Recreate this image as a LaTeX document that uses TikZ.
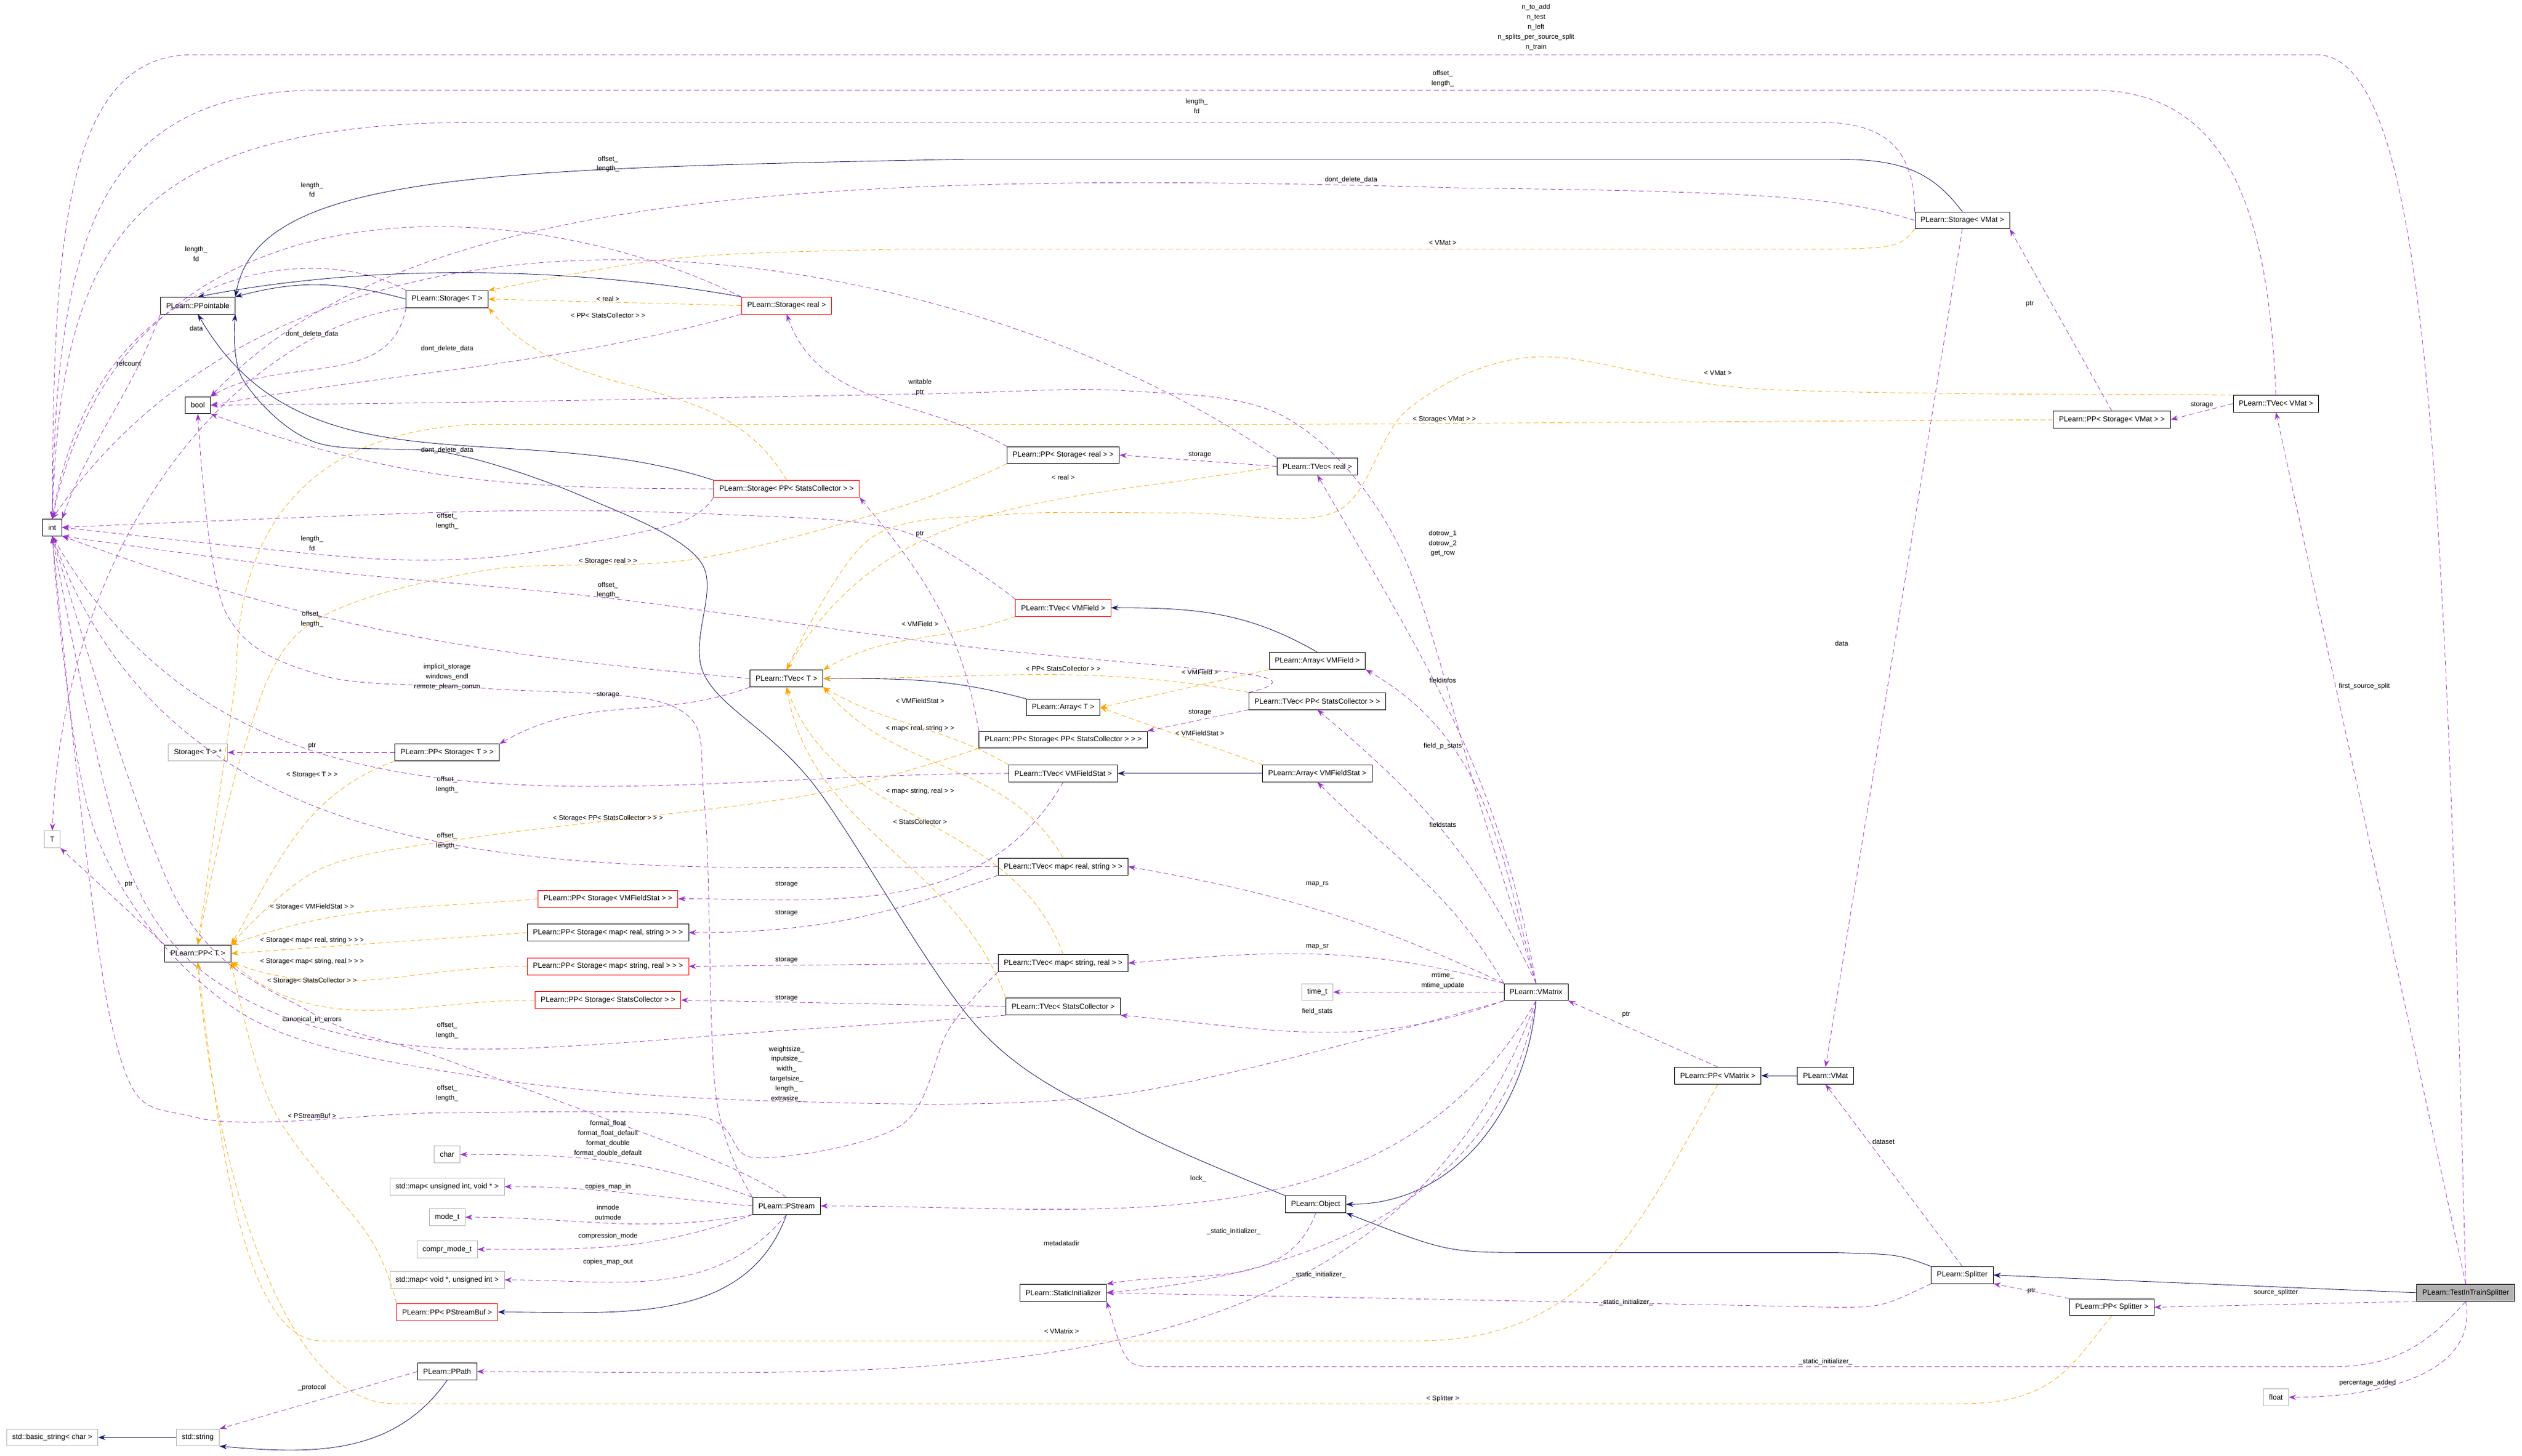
\documentclass[tikz,border=0pt]{standalone}
\usepackage{fontspec}
\setmainfont{Liberation Sans}
\usetikzlibrary{arrows.meta}
\begin{document}
\begin{tikzpicture}[x=0.2mm,y=-0.2mm,
  box/.style={draw=black,fill=white,line width=0.18pt,font=\fontsize{2.6}{3}\selectfont,inner xsep=0.7mm,inner ysep=0.3mm,minimum height=2.1mm},
  rbox/.style={box,draw=red},
  gbox/.style={box,draw=black!30},
  cbox/.style={box,fill=black!30},
  lab/.style={font=\fontsize{2.4}{3.5}\selectfont,align=center,inner sep=0pt},
  tip/.style={-{Stealth[length=0.9mm,width=0.64mm]}},
  dep/.style={tip,draw={rgb,255:red,154;green,50;blue,205},dash pattern=on 0.6mm off 0.4mm,line width=0.16pt},
  tmp/.style={tip,draw={rgb,255:red,255;green,165;blue,0},dash pattern=on 0.6mm off 0.4mm,line width=0.16pt},
  inh/.style={tip,draw={rgb,255:red,25;green,25;blue,112},line width=0.18pt},
  smooth/.append style={tension=0.55}]
\useasboundingbox[fill=white] (0,0) rectangle (1568,905.2);
% nodes
\node[box] (int) at (32.5,328) {int};
\node[box] (ppt) at (123,190) {PLearn::PPointable};
\node[box] (stT) at (278,186) {PLearn::Storage< T >};
\node[rbox] (streal) at (489,190) {PLearn::Storage< real >};
\node[box] (bool) at (123,252) {bool};
\node[rbox] (stsc) at (489,304) {PLearn::Storage< PP< StatsCollector > >};
\node[box] (ppstreal) at (661,283) {PLearn::PP< Storage< real > >};
\node[box] (tvreal) at (819,290) {PLearn::TVec< real >};
\node[box] (stvmat) at (1220,137) {PLearn::Storage< VMat >};
\node[box] (ppstvmat) at (1313,261) {PLearn::PP< Storage< VMat > >};
\node[box] (tvvmat) at (1415,251) {PLearn::TVec< VMat >};
\node[rbox] (tvvmf) at (661,378) {PLearn::TVec< VMField >};
\node[box] (arrvmf) at (819,411) {PLearn::Array< VMField >};
\node[box] (tvT) at (489,422) {PLearn::TVec< T >};
\node[box] (tvppsc) at (819,436) {PLearn::TVec< PP< StatsCollector > >};
\node[box] (arrT) at (661,440) {PLearn::Array< T >};
\node[box] (ppstppsc) at (661,460) {PLearn::PP< Storage< PP< StatsCollector > > >};
\node[box] (tvvmfs) at (661,481) {PLearn::TVec< VMFieldStat >};
\node[box] (arrvmfs) at (819,481) {PLearn::Array< VMFieldStat >};
\node[gbox] (stTptr) at (123,468) {Storage< T > *};
\node[box] (ppstT) at (278,468) {PLearn::PP< Storage< T > >};
\node[gbox] (T) at (32.5,522) {T};
\node[box] (ppT) at (123,593) {PLearn::PP< T >};
\node[box] (tvmrs) at (661,539) {PLearn::TVec< map< real, string > >};
\node[rbox] (ppstvmfs) at (378,559) {PLearn::PP< Storage< VMFieldStat > >};
\node[box] (ppstmrs) at (378,580) {PLearn::PP< Storage< map< real, string > > >};
\node[rbox] (ppstmsr) at (378,601) {PLearn::PP< Storage< map< string, real > > >};
\node[box] (tvmsr) at (661,599) {PLearn::TVec< map< string, real > >};
\node[rbox] (ppstsc) at (378,622) {PLearn::PP< Storage< StatsCollector > >};
\node[box] (tvsc) at (661,626) {PLearn::TVec< StatsCollector >};
\node[gbox] (timet) at (819,617) {time\_t};
\node[box] (vmatrix) at (955,617) {PLearn::VMatrix};
\node[box] (ppvmatrix) at (1068,669) {PLearn::PP< VMatrix >};
\node[box] (vmat) at (1135,669) {PLearn::VMat};
\node[gbox] (char) at (278,718) {char};
\node[gbox] (mapuv) at (278,738) {std::map< unsigned int, void * >};
\node[box] (pstream) at (489,750) {PLearn::PStream};
\node[gbox] (modet) at (278,757) {mode\_t};
\node[gbox] (comprt) at (278,777) {compr\_mode\_t};
\node[gbox] (mapvu) at (278,796) {std::map< void *, unsigned int >};
\node[box] (pobject) at (818,749) {PLearn::Object};
\node[rbox] (ppsbuf) at (278,816) {PLearn::PP< PStreamBuf >};
\node[box] (statinit) at (661,804) {PLearn::StaticInitializer};
\node[box] (splitter) at (1220,793) {PLearn::Splitter};
\node[cbox] (tits) at (1533,804) {PLearn::TestInTrainSplitter};
\node[box] (ppsplitter) at (1313,813) {PLearn::PP< Splitter >};
\node[box] (ppath) at (278,853) {PLearn::PPath};
\node[gbox] (bstring) at (32.5,894) {std::basic\_string< char >};
\node[gbox] (string) at (123,894) {std::string};
\node[gbox] (float) at (1415,869) {float};
% inheritance
\draw[inh] (stT.west) to[out=165,in=15] (ppt.north east);
\draw[inh] (streal.north west) .. controls (380,170) and (250,160) .. (ppt.north);
\draw[inh] (stsc.north west) to[out=162,in=-60] (ppt.south);
\draw[inh] (stvmat.north) .. controls (1200,105) and (1180,99) .. (1140,99) -- (600,99) .. controls (300,105) and (160,108) .. (ppt.north east);
\draw[inh] plot[smooth] coordinates {(pobject.north west) (700,700) (608,639) (506,488) (438,420) (436,350) (363,309) (280,282) (196,275) (151,236) (ppt.south east)};
\draw[inh] (arrT.north west) to[out=165,in=0] (tvT.east);
\draw[inh] (arrvmf.north) to[out=150,in=0] (tvvmf.east);
\draw[inh] (arrvmfs.west) -- (tvvmfs.east);
\draw[inh] (vmatrix.south) to[out=-95,in=0] (pobject.east);
\draw[inh] (splitter.north west) .. controls (1180,780) .. (1138,779) -- (954,779) .. controls (900,779) .. (pobject.south east);
\draw[inh] (tits.west) -- (splitter.east);
\draw[inh] (vmat.west) -- (ppvmatrix.east);
\draw[inh] (pstream.south) to[out=-110,in=0] (ppsbuf.east);
\draw[inh] (ppath.south) to[out=-125,in=-5] (string.south east);
\draw[inh] (string.west) -- (bstring.east);
% template instances
\draw[tmp] (streal.west) -- (stT.east);
\draw[tmp] (stsc.north) to[out=120,in=-50] (stT.south east);
\draw[tmp] (stvmat.south west) .. controls (1180,155) .. (1100,155) -- (560,155) .. controls (420,158) .. (stT.north east);
\draw[tmp] (tvreal.west) to[out=190,in=60] (tvT.north);
\draw[tmp] (tvvmf.south west) to[out=200,in=30] (tvT.north east);
\draw[tmp] (tvppsc.north west) to[out=170,in=0] (tvT.east);
\draw[tmp] (tvvmfs.north west) to[out=150,in=-30] (tvT.south east);
\draw[tmp] (tvmrs.north) to[out=120,in=-50] (tvT.south east);
\draw[tmp] (tvmsr.north) to[out=110,in=-70] (tvT.south);
\draw[tmp] (tvsc.north west) to[out=110,in=-80] (tvT.south);
\draw[tmp] plot[smooth] coordinates {(tvvmat.north west) (1096,242) (955,222) (876,254) (831,318) (737,319) (625,320) (541,335) (tvT.north)};
\draw[tmp] (arrvmf.south west) -- (arrT.east);
\draw[tmp] (arrvmfs.north west) to[out=160,in=-20] (arrT.east);
\draw[tmp] plot[smooth] coordinates {(ppstreal.south west) (560,315) (430,348) (300,355) (190,390) (150,470) (ppT.north)};
\draw[tmp] (ppstT.south west) to[out=200,in=60] (ppT.north east);
\draw[tmp] plot[smooth] coordinates {(ppstppsc.south west) (500,495) (300,520) (200,540) (ppT.north east)};
\draw[tmp] (ppstvmfs.west) to[out=185,in=20] (ppT.north east);
\draw[tmp] (ppstmrs.west) -- (ppT.east);
\draw[tmp] (ppstmsr.west) to[out=180,in=-20] (ppT.south east);
\draw[tmp] (ppstsc.west) to[out=180,in=-40] (ppT.south east);
\draw[tmp] (ppstvmat.west) -- (800,264) -- (293,264) .. controls (190,270) and (147,330) .. (147,420) -- (ppT.north);
\draw[tmp] plot[smooth] coordinates {(ppsbuf.north west) (230,770) (170,690) (ppT.south east)};
\draw[tmp] (ppvmatrix.south) .. controls (1020,760) and (990,834) .. (880,834) -- (200,834) .. controls (150,834) and (135,700) .. (ppT.south);
\draw[tmp] (ppsplitter.south) .. controls (1290,845) and (1280,873) .. (1220,873) -- (245,873) .. controls (170,873) and (130,700) .. (ppT.south);
% usage
\draw[dep] (ppt.south west) to[out=-110,in=70] (int.north east);
\draw[dep] (stT.south west) .. controls (150,205) and (40,330) .. (T.north);
\draw[dep] (stT.north west) .. controls (200,150) and (60,160) .. (int.north);
\draw[dep] (stT.south west) to[out=-100,in=30] (bool.north east);
\draw[dep] (streal.north west) .. controls (330,120) and (80,100) .. (int.north);
\draw[dep] (streal.south west) to[out=195,in=10] (bool.east);
\draw[dep] plot[smooth] coordinates {(stsc.south west) (419,326) (320,345) (244,348) (150,340) (int.east)};
\draw[dep] (stsc.west) to[out=180,in=-20] (bool.south east);
\draw[dep] (stvmat.north west) .. controls (1190,90) and (1170,76) .. (1130,76) -- (300,76) .. controls (80,76) and (38,150) .. (int.north);
\draw[dep] (stvmat.west) .. controls (1150,125) and (1120,119) .. (912,117) .. controls (500,105) and (250,120) .. (bool.north east);
\draw[dep] (stvmat.south) -- (vmat.north);
\draw[dep] (ppstreal.north west) to[out=150,in=-70] (streal.south);
\draw[dep] (ppstvmat.north) -- (stvmat.south east);
\draw[dep] (ppstppsc.north west) to[out=100,in=-50] (stsc.south east);
\draw[dep] (ppstT.west) -- (stTptr.east);
\draw[dep] (ppT.north west) -- (T.south east);
\draw[dep] (tvreal.west) -- (ppstreal.east);
\draw[dep] (tvvmat.west) -- (ppstvmat.east);
\draw[dep] (tvT.south west) to[out=200,in=30] (ppstT.north east);
\draw[dep] (tvppsc.south west) -- (ppstppsc.north east);
\draw[dep] (tvvmfs.south) to[out=-120,in=0] (ppstvmfs.east);
\draw[dep] (tvmrs.south west) to[out=200,in=0] (ppstmrs.east);
\draw[dep] (tvmsr.west) -- (ppstmsr.east);
\draw[dep] (tvsc.west) -- (ppstsc.east);
\draw[dep] (tvreal.north west) .. controls (600,150) and (200,80) .. (int.north);
\draw[dep] (tvvmat.north) .. controls (1410,120) and (1380,56) .. (1300,56) -- (200,56) .. controls (60,56) and (35,150) .. (int.north);
\draw[dep] (tits.north) .. controls (1520,300) and (1510,34) .. (1440,34) -- (120,34) .. controls (40,34) and (33,150) .. (int.north);
\draw[dep] plot[smooth] coordinates {(tvvmf.north west) (560,330) (450,320) (300,318) (int.east)};
\draw[dep] (tvT.west) to[out=175,in=-20] (int.south east);
\draw[dep] plot[smooth] coordinates {(tvppsc.north west) (780,420) (600,402) (378,372) (200,355) (int.south east)};
\draw[dep] (tvvmfs.west) to[out=180,in=-60] (int.south);
\draw[dep] (tvmrs.west) to[out=180,in=-70] (int.south);
\draw[dep] plot[smooth] coordinates {(tvsc.south west) (500,640) (278,652) (150,620) (80,540) (int.south)};
\draw[dep] plot[smooth] coordinates {(vmatrix.south west) (700,680) (489,685) (300,670) (150,630) (60,520) (int.south)};
\draw[dep] plot[smooth] coordinates {(tvmsr.south west) (590,640) (560,700) (470,720) (433,694) (278,692) (122,695) (70,640) (int.south)};
\draw[dep] plot[smooth] coordinates {(pstream.north) (440,720) (280,660) (194,630) (110,560) (int.south)};
\draw[dep] plot[smooth] coordinates {(pstream.north west) (445,680) (438,500) (420,440) (300,428) (200,420) (140,380) (bool.south)};
\draw[dep] plot[smooth] coordinates {(vmatrix.north) (920,500) (870,340) (800,260) (700,243) (572,245) (300,250) (bool.east)};
\draw[dep] (vmatrix.north) to[out=100,in=-60] (tvreal.south);
\draw[dep] (vmatrix.north) to[out=105,in=-30] (arrvmf.south east);
\draw[dep] (vmatrix.north) to[out=115,in=-40] (tvppsc.south);
\draw[dep] (vmatrix.north west) to[out=120,in=-45] (arrvmfs.south);
\draw[dep] (vmatrix.north west) to[out=155,in=-10] (tvmrs.east);
\draw[dep] (vmatrix.north west) to[out=165,in=5] (tvmsr.east);
\draw[dep] (vmatrix.west) -- (timet.east);
\draw[dep] (vmatrix.south west) to[out=-160,in=-5] (tvsc.south east);
\draw[dep] (vmatrix.south) to[out=-120,in=0] (pstream.east);
\draw[dep] (vmatrix.south) to[out=-110,in=0] (ppath.east);
\draw[dep] (pobject.south) to[out=-110,in=10] (statinit.north east);
\draw[dep] (vmatrix.south) to[out=-100,in=5] (statinit.east);
\draw[dep] (splitter.south west) .. controls (1170,813) .. (1140,813) -- (statinit.east);
\draw[dep] (tits.south) .. controls (1510,835) and (1490,850) .. (1450,850) -- (720,850) .. controls (700,850) .. (statinit.south east);
\draw[dep] (ppvmatrix.north) -- (vmatrix.south east);
\draw[dep] (splitter.north) -- (vmat.south);
\draw[dep] (ppsplitter.north west) -- (splitter.south east);
\draw[dep] (tits.south west) -- (ppsplitter.east);
\draw[dep] (tits.north) -- (tvvmat.south);
\draw[dep] (tits.south) to[out=-80,in=0] (float.east);
\draw[dep] (pstream.north west) to[out=160,in=0] (char.east);
\draw[dep] (pstream.west) to[out=175,in=0] (mapuv.east);
\draw[dep] (pstream.south west) to[out=190,in=0] (modet.east);
\draw[dep] (pstream.south west) to[out=200,in=0] (comprt.east);
\draw[dep] (pstream.south) to[out=-130,in=0] (mapvu.east);
\draw[dep] (ppath.west) -- (string.north east);
% labels
\node[lab] (l1) at (955,17) {n\_to\_add\\n\_test\\n\_left\\n\_splits\_per\_source\_split\\n\_train};
\node[lab] (l2) at (897,49) {offset\_\\length\_};
\node[lab] (l3) at (744,66) {length\_\\fd};
\node[lab] (l4) at (840,112) {dont\_delete\_data};
\node[lab] (l5) at (378,102) {offset\_\\length\_};
\node[lab] (l6) at (194,118) {length\_\\fd};
\node[lab] (l7) at (122,158) {length\_\\fd};
\node[lab] (l8) at (897,151) {< VMat >};
\node[lab] (l9) at (378,186) {< real >};
\node[lab] (l10) at (378,196) {< PP< StatsCollector > >};
\node[lab] (l11) at (122,204) {data};
\node[lab] (l12) at (194,208) {dont\_delete\_data};
\node[lab] (l13) at (278,217) {dont\_delete\_data};
\node[lab] (l14) at (80,226) {refcount};
\node[lab] (l15) at (1262,189) {ptr};
\node[lab] (l16) at (1068,232) {< VMat >};
\node[lab] (l17) at (572,241) {writable\\ptr};
\node[lab] (l18) at (1369,252) {storage};
\node[lab] (l19) at (898,261) {< Storage< VMat > >};
\node[lab] (l20) at (278,280) {dont\_delete\_data};
\node[lab] (l21) at (746,283) {storage};
\node[lab] (l22) at (661,297) {< real >};
\node[lab] (l23) at (278,324) {offset\_\\length\_};
\node[lab] (l24) at (572,332) {ptr};
\node[lab] (l25) at (897,338) {dotrow\_1\\dotrow\_2\\get\_row};
\node[lab] (l26) at (194,338) {length\_\\fd};
\node[lab] (l27) at (378,349) {< Storage< real > >};
\node[lab] (l28) at (378,367) {offset\_\\length\_};
\node[lab] (l29) at (194,385) {offset\_\\length\_};
\node[lab] (l30) at (572,388) {< VMField >};
\node[lab] (l31) at (661,416) {< PP< StatsCollector > >};
\node[lab] (l32) at (746,418) {< VMField >};
\node[lab] (l33) at (897,423) {fieldinfos};
\node[lab] (l34) at (278,421) {implicit\_storage\\windows\_endl\\remote\_plearn\_comm};
\node[lab] (l35) at (378,432) {storage};
\node[lab] (l36) at (572,436) {< VMFieldStat >};
\node[lab] (l37) at (746,443) {storage};
\node[lab] (l38) at (572,453) {< map< real, string > >};
\node[lab] (l39) at (746,456) {< VMFieldStat >};
\node[lab] (l40) at (194,464) {ptr};
\node[lab] (l41) at (897,464) {field\_p\_stats};
\node[lab] (l42) at (194,482) {< Storage< T > >};
\node[lab] (l43) at (278,488) {offset\_\\length\_};
\node[lab] (l44) at (572,492) {< map< string, real > >};
\node[lab] (l45) at (378,509) {< Storage< PP< StatsCollector > > >};
\node[lab] (l46) at (572,511) {< StatsCollector >};
\node[lab] (l47) at (897,513) {fieldstats};
\node[lab] (l48) at (278,523) {offset\_\\length\_};
\node[lab] (l49) at (80,550) {ptr};
\node[lab] (l50) at (489,550) {storage};
\node[lab] (l51) at (819,550) {map\_rs};
\node[lab] (l52) at (194,564) {< Storage< VMFieldStat > >};
\node[lab] (l53) at (489,568) {storage};
\node[lab] (l54) at (194,585) {< Storage< map< real, string > > >};
\node[lab] (l55) at (819,589) {map\_sr};
\node[lab] (l56) at (489,597) {storage};
\node[lab] (l57) at (194,598) {< Storage< map< string, real > > >};
\node[lab] (l58) at (194,610) {< Storage< StatsCollector > >};
\node[lab] (l59) at (897,610) {mtime\_\\mtime\_update};
\node[lab] (l60) at (489,621) {storage};
\node[lab] (l61) at (819,629) {field\_stats};
\node[lab] (l62) at (1011,631) {ptr};
\node[lab] (l63) at (194,634) {canonical\_in\_errors};
\node[lab] (l64) at (278,641) {offset\_\\length\_};
\node[lab] (l65) at (489,668) {weightsize\_\\inputsize\_\\width\_\\targetsize\_\\length\_\\extrasize\_};
\node[lab] (l66) at (278,680) {offset\_\\length\_};
\node[lab] (l67) at (194,694) {< PStreamBuf >};
\node[lab] (l68) at (378,708) {format\_float\\format\_float\_default\\format\_double\\format\_double\_default};
\node[lab] (l69) at (1171,710) {dataset};
\node[lab] (l70) at (745,733) {lock\_};
\node[lab] (l71) at (378,738) {copies\_map\_in};
\node[lab] (l72) at (378,754) {inmode\\outmode};
\node[lab] (l73) at (767,766) {\_static\_initializer\_};
\node[lab] (l74) at (378,769) {compression\_mode};
\node[lab] (l75) at (660,773) {metadatadir};
\node[lab] (l76) at (378,785) {copies\_map\_out};
\node[lab] (l77) at (820,793) {\_static\_initializer\_};
\node[lab] (l78) at (1263,803) {ptr};
\node[lab] (l79) at (1415,804) {source\_splitter};
\node[lab] (l80) at (1011,810) {\_static\_initializer\_};
\node[lab] (l81) at (660,828) {< VMatrix >};
\node[lab] (l82) at (1135,847) {\_static\_initializer\_};
\node[lab] (l83) at (1472,860) {percentage\_added};
\node[lab] (l84) at (194,863) {\_protocol};
\node[lab] (l85) at (897,870) {< Splitter >};
\node[lab] (l86) at (1145,400) {data};
\node[lab] (l87) at (1470,427) {first\_source\_split};
\end{tikzpicture}
\end{document}
